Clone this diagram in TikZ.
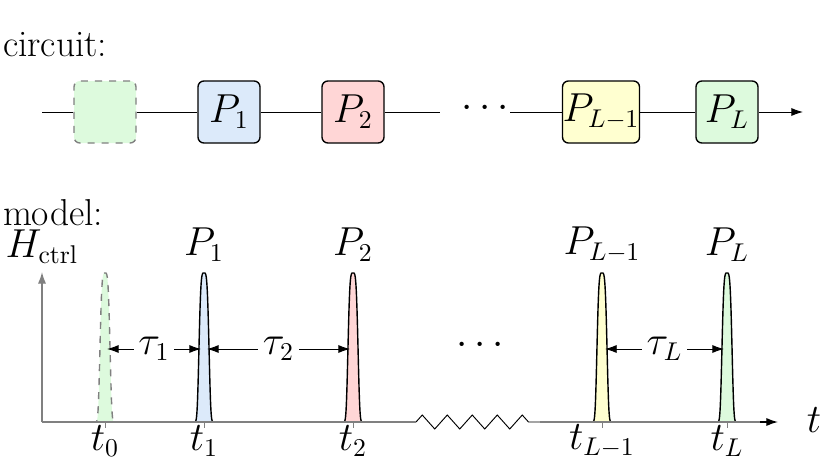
\documentclass[tikz,border=0pt]{standalone}
\usetikzlibrary{arrows.meta,decorations.pathmorphing}
\definecolor{cg}{RGB}{221,250,221}
\definecolor{cb}{RGB}{220,234,250}
\definecolor{cr}{RGB}{255,214,214}
\definecolor{cy}{RGB}{255,255,208}
\begin{document}
\begin{tikzpicture}[x=0.015cm,y=-0.015cm,font=\fontsize{16}{19}\selectfont,line width=0.6pt,
  gate/.style={draw,rounded corners=2.5pt,minimum size=62*0.015cm,inner sep=0pt},
  lbl/.style={inner sep=1pt},
  pdash/.style={dashed,draw=gray},
  psolid/.style={draw=black},
  arr/.style={-{Latex[length=5pt,width=3.5pt]}},
  taua/.style={{Latex[length=5pt,width=3.5pt]}-{Latex[length=5pt,width=3.5pt]}}]
\useasboundingbox (0,0) rectangle (830,473);
\node[anchor=west,lbl] (lc) at (0,45) {circuit:};
\node[anchor=west,lbl] (lm) at (0,213) {model:};
% circuit
\coordinate (cs) at (42,112);
\coordinate (ce) at (803,112);
\node[gate,dashed,draw=gray,fill=cg] (g0) at (105,112) {};
\node[gate,fill=cb] (g1) at (229,112) {$P_1$};
\node[gate,fill=cr] (g2) at (353,112) {$P_2$};
\node (cd) at (485,108) {$\cdots$};
\node[gate,fill=cy] (g3) at (601,112) {$P_{L-1}$};
\node[gate,fill=cg] (g4) at (727,112) {$P_L$};
\coordinate (c1) at (440,112);
\coordinate (c2) at (510,112);
\draw[line width=0.4pt] (cs)--(g0) (g0)--(g1) (g1)--(g2) (g2)--(c1) (c2)--(g3) (g3)--(g4);
\draw[arr,line width=0.4pt] (g4)--(ce);
% model axes
\coordinate (o) at (42,422);
\coordinate (yt) at (42,272);
\coordinate (xt) at (778,422);
\coordinate (z1) at (416,422);
\coordinate (z2) at (540,422);
\draw[gray,arr] (o)--(yt);
\draw[arr,black] (755,422)--(xt);
\draw[line width=0.4pt,decorate,decoration={zigzag,segment length=25*0.015cm,amplitude=7*0.015cm}] (z1)--(z2);
\node[lbl] (hl) at (42,247) {$H_{\mathrm{ctrl}}$};
\node[lbl] (tl) at (814,420) {$t$};
% pulses
\foreach \n/\cx/\c/\s/\lab in {p0/105/cg/pdash/0,p1/204/cb/psolid/1,p2/353/cr/psolid/2,p3/602/cy/psolid/{L-1},p4/727/cg/psolid/L}{
  \coordinate (\n) at (\cx,422);
  \fill[\c] plot[domain=-14:14,samples=57,smooth] ({\cx+\x},{422-149*exp(-(\x/5.5)^4)});
  \draw[\s] plot[domain=-14:14,samples=57,smooth] ({\cx+\x},{422-149*exp(-(\x/5.5)^4)});
  \draw[gray,line width=0.4pt] (\cx,422)--(\cx,428);
  \node[lbl] (\n l) at (\cx,441) {$t_{\lab}$};
}
\draw[gray] (o)--(z1) (z2)--(760,422);
\node[lbl] (q1) at (204,245) {$P_1$};
\node[lbl] (q2) at (353,245) {$P_2$};
\node[lbl] (q3) at (602,245) {$P_{L-1}$};
\node[lbl] (q4) at (727,245) {$P_L$};
\node (md) at (480,345) {$\cdots$};
\coordinate (a0) at (107,349); \coordinate (b1) at (201,349);
\coordinate (a1) at (207,349); \coordinate (b2) at (350,349);
\coordinate (a3) at (605,349); \coordinate (b4) at (724,349);
\draw[taua,line width=0.4pt] (a0)--node[fill=white,inner sep=2pt]{$\tau_1$}(b1);
\draw[taua,line width=0.4pt] (a1)--node[fill=white,inner sep=2pt]{$\tau_2$}(b2);
\draw[taua,line width=0.4pt] (a3)--node[fill=white,inner sep=2pt]{$\tau_L$}(b4);
\end{tikzpicture}
\end{document}
